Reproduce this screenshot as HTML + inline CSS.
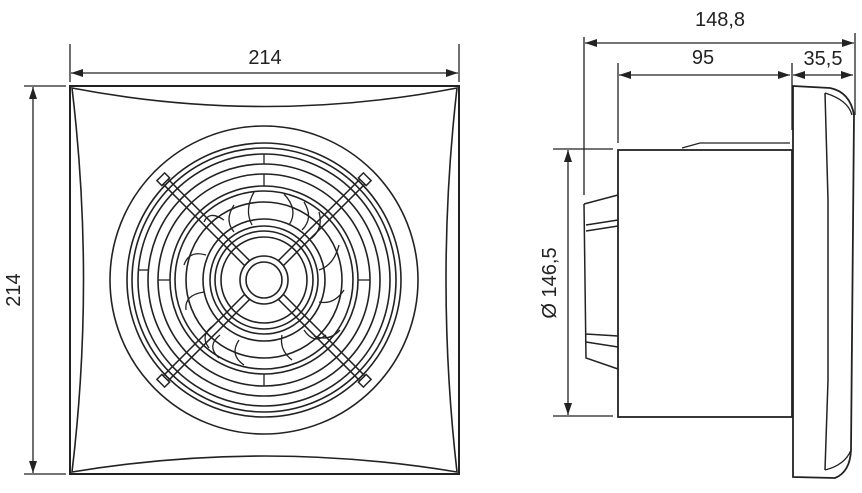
<!DOCTYPE html>
<html><head><meta charset="utf-8"><style>
html,body{margin:0;padding:0;background:#fff}
svg{display:block}
text{font-family:"Liberation Sans",sans-serif;font-size:20px;fill:#222}
</style></head><body>
<svg width="862" height="493" viewBox="0 0 862 493" xmlns="http://www.w3.org/2000/svg">
<defs>
<marker id="a" viewBox="0 0 12 8" refX="12" refY="4" markerWidth="12" markerHeight="8" orient="auto-start-reverse" markerUnits="userSpaceOnUse"><path d="M0,0 L12,4 L0,8 Z" fill="#222"/></marker>
</defs>
<g stroke="#222" fill="none" stroke-width="1.3">
<line x1="70" y1="44" x2="70" y2="82"/>
<line x1="459" y1="44" x2="459" y2="82"/>
<line x1="71" y1="73" x2="458" y2="73" marker-start="url(#a)" marker-end="url(#a)"/>
<line x1="24" y1="86" x2="66" y2="86"/>
<line x1="24" y1="474" x2="66" y2="474"/>
<line x1="33" y1="87" x2="33" y2="473" marker-start="url(#a)" marker-end="url(#a)"/>
<rect x="70" y="86" width="389" height="388" stroke-width="2"/>
<path d="M72,88 Q265,125 457,88 Q435,280 457,472 Q265,440 72,472 Q95,280 72,88 Z" stroke-width="1.6"/>
<g transform="translate(264,280)" stroke-width="1.6">
<circle r="154"/>
<circle r="137"/><circle r="132"/><circle r="126"/><circle r="116"/><circle r="106"/>
<circle r="94"/><circle r="89"/><circle r="78"/><circle r="61"/><circle r="54"/><circle r="49"/><circle r="43"/><circle r="24"/><circle r="18"/>
<g stroke-width="1.3">
<path d="M-10,-88 Q-20,-70 -12,-55"/><path d="M20,-86 Q35,-70 25,-55"/><path d="M55,-68 Q60,-50 45,-40"/>
<path d="M75,-35 Q70,-15 55,-10"/><path d="M80,10 Q70,25 55,22"/><path d="M62,55 Q50,65 40,50"/>
<path d="M28,80 Q15,70 18,55"/><path d="M-20,85 Q-35,75 -25,60"/><path d="M-55,68 Q-65,55 -50,45"/>
<path d="M-78,30 Q-80,15 -60,12"/><path d="M-80,-15 Q-75,-30 -58,-25"/><path d="M-60,-58 Q-55,-70 -40,-60"/>
<path d="M-30,-75 Q-40,-60 -30,-48"/><path d="M40,-78 Q50,-62 38,-50"/><path d="M76,50 Q65,62 50,56"/><path d="M-45,78 Q-58,66 -44,55"/>
<line x1="0" y1="-106" x2="0" y2="-94"/><line x1="0" y1="-116" x2="0" y2="-126"/>
<line x1="106" y1="0" x2="94" y2="0"/><line x1="-106" y1="0" x2="-94" y2="0"/>
<line x1="0" y1="106" x2="0" y2="94"/><line x1="-126" y1="-10" x2="-116" y2="-10"/>
</g>
<g stroke-width="1.5">
<g transform="rotate(45)"><rect x="-3.5" y="-140" width="7" height="116"/><rect x="-5.5" y="-146" width="11" height="7" fill="#fff"/><rect x="-3.5" y="24" width="7" height="116"/><rect x="-5.5" y="139" width="11" height="7" fill="#fff"/></g>
<g transform="rotate(-45)"><rect x="-3.5" y="-140" width="7" height="116"/><rect x="-5.5" y="-146" width="11" height="7" fill="#fff"/><rect x="-3.5" y="24" width="7" height="116"/><rect x="-5.5" y="139" width="11" height="7" fill="#fff"/></g>
</g>
</g>
<line x1="584" y1="37" x2="584" y2="195"/>
<line x1="855" y1="33" x2="855" y2="115"/>
<line x1="585" y1="43" x2="854" y2="43" marker-start="url(#a)" marker-end="url(#a)"/>
<line x1="618" y1="63" x2="618" y2="143"/>
<line x1="619" y1="75" x2="790" y2="75" marker-start="url(#a)" marker-end="url(#a)"/>
<line x1="792" y1="63" x2="792" y2="130"/>
<line x1="793" y1="75" x2="853" y2="75" marker-start="url(#a)" marker-end="url(#a)"/>
<line x1="553" y1="149" x2="613" y2="149"/>
<line x1="553" y1="416" x2="613" y2="416"/>
<line x1="568" y1="150" x2="568" y2="415" marker-start="url(#a)" marker-end="url(#a)"/>
<rect x="618" y="150" width="174" height="267" stroke-width="1.8"/>
<path d="M682,148 L700,143 L790,143"/>
<path d="M584,204 L618,195 M584,204 L586,358 L618,369 M586,225 L618,220 M586,231 L618,226 M586,334 L618,336 M586,342 L618,347" stroke-width="1.5"/>
<path d="M793,86 L830,88 Q850,92 854,115 L851,450 Q850,472 835,478 L793,477 Z" stroke-width="1.8"/>
<path d="M825,93 L828,200 L828,380 L825,470" stroke-width="1.5"/>
<path d="M825,93 Q848,100 852,115 M825,470 Q845,465 851,450"/>
</g>
<text x="265" y="64" text-anchor="middle">214</text>
<text transform="translate(20,290) rotate(-90)" text-anchor="middle">214</text>
<text x="720" y="26" text-anchor="middle">148,8</text>
<text x="703" y="64" text-anchor="middle">95</text>
<text x="823" y="65" text-anchor="middle">35,5</text>
<text transform="translate(556,283) rotate(-90)" text-anchor="middle">Ø 146,5</text>
</svg>
</body></html>
